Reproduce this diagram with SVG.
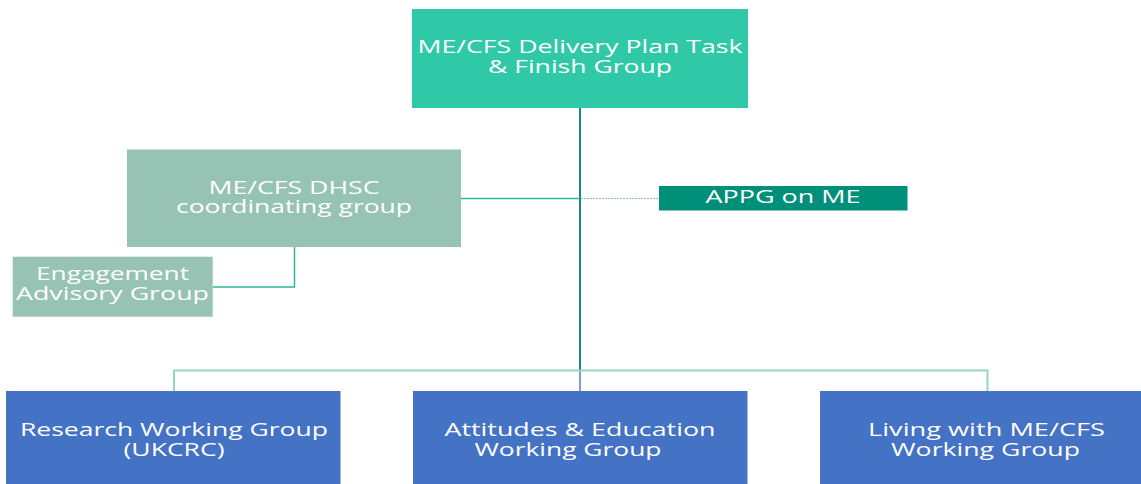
<svg xmlns="http://www.w3.org/2000/svg" width="1141" height="484" viewBox="0 0 1141 484">
<style>
text{font-family:"Open Sans","Liberation Sans",sans-serif;fill:#ffffff;text-anchor:middle;font-size:18px}
.b text{font-size:18.5px}
</style>
<rect width="1141" height="484" fill="#ffffff"/>
<g id="connectors" fill="none">
<line x1="580" y1="108" x2="580" y2="371" stroke="#138B7F" stroke-width="2"/>
<line x1="580" y1="371" x2="580" y2="391" stroke="#7E9CD6" stroke-width="2"/>
<line x1="461" y1="198.5" x2="580" y2="198.5" stroke="#2FB89D" stroke-width="1.5"/>
<line x1="581" y1="198.5" x2="659" y2="198.5" stroke="#8FB3E3" stroke-width="1" stroke-dasharray="2,1"/>
<polyline points="294.5,247 294.5,287 212.7,287" stroke="#2FB89D" stroke-width="1.5"/>
<polyline points="174,391 174,370.5 987.5,370.5 987.5,391" stroke="#97D3C7" stroke-width="2"/>
</g>
<g id="task-finish">
<rect x="412" y="9" width="336" height="99" fill="#2FC9A8"/>
<text x="580" y="53" textLength="325" lengthAdjust="spacingAndGlyphs">ME/CFS Delivery Plan Task</text>
<text x="580" y="73" textLength="184" lengthAdjust="spacingAndGlyphs">&amp; Finish Group</text>
</g>
<g id="dhsc">
<rect x="127" y="149.5" width="334" height="97.5" fill="#96C3B4"/>
<text x="294" y="194" textLength="171" lengthAdjust="spacingAndGlyphs">ME/CFS DHSC</text>
<text x="294" y="213" textLength="236" lengthAdjust="spacingAndGlyphs">coordinating group</text>
</g>
<g id="engagement">
<rect x="12.7" y="256.7" width="200" height="60" fill="#96C3B4"/>
<text x="112.5" y="280" textLength="153" lengthAdjust="spacingAndGlyphs">Engagement</text>
<text x="112.5" y="300" textLength="193" lengthAdjust="spacingAndGlyphs">Advisory Group</text>
</g>
<g id="appg">
<rect x="659" y="186" width="248.5" height="24.5" fill="#00907A"/>
<text x="783" y="202.5" textLength="155" lengthAdjust="spacingAndGlyphs">APPG on ME</text>
</g>
<g id="research" class="b">
<rect x="6" y="391" width="334.5" height="93" fill="#4472C4"/>
<text x="174" y="436" textLength="308" lengthAdjust="spacingAndGlyphs">Research Working Group</text>
<text x="174" y="456" textLength="101" lengthAdjust="spacingAndGlyphs">(UKCRC)</text>
</g>
<g id="attitudes" class="b">
<rect x="413" y="391" width="334.5" height="93" fill="#4472C4"/>
<text x="580" y="436" textLength="271" lengthAdjust="spacingAndGlyphs">Attitudes &amp; Education</text>
<text x="568" y="456" textLength="187" lengthAdjust="spacingAndGlyphs">Working Group</text>
</g>
<g id="living" class="b">
<rect x="820" y="391" width="330" height="93" fill="#4472C4"/>
<text x="986.5" y="436" textLength="237" lengthAdjust="spacingAndGlyphs">Living with ME/CFS</text>
<text x="985.5" y="456" textLength="189" lengthAdjust="spacingAndGlyphs">Working Group</text>
</g>
</svg>
